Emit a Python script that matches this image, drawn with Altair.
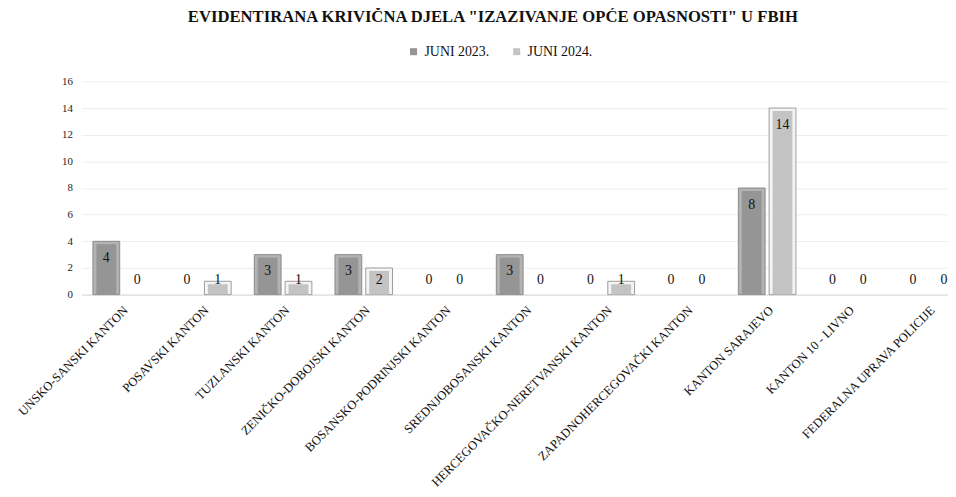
import altair as alt
import pandas as pd

categories = [
    "UNSKO-SANSKI KANTON",
    "POSAVSKI KANTON",
    "TUZLANSKI KANTON",
    "ZENIČKO-DOBOJSKI KANTON",
    "BOSANSKO-PODRINJSKI KANTON",
    "SREDNJOBOSANSKI KANTON",
    "HERCEGOVAČKO-NERETVANSKI KANTON",
    "ZAPADNOHERCEGOVAČKI KANTON",
    "KANTON SARAJEVO",
    "KANTON 10 - LIVNO",
    "FEDERALNA UPRAVA POLICIJE",
]
series = ["JUNI 2023.", "JUNI 2024."]
values_2023 = [4, 0, 3, 3, 0, 3, 0, 0, 8, 0, 0]
values_2024 = [0, 1, 1, 2, 0, 0, 1, 0, 14, 0, 0]
y_ticks = [0, 2, 4, 6, 8, 10, 12, 14, 16]

rows = []
for c, a, b in zip(categories, values_2023, values_2024):
    rows.append({"kanton": c, "series": series[0], "value": a})
    rows.append({"kanton": c, "series": series[1], "value": b})
df = pd.DataFrame(rows)

FONT = "Liberation Serif"

x_enc = alt.X(
    "kanton:N",
    sort=categories,
    scale=alt.Scale(domain=categories, range=[0, 895], paddingInner=0, paddingOuter=0),
    axis=alt.Axis(
        title=None,
        labelAngle=-45,
        labelFont=FONT,
        labelFontSize=12.7,
        labelColor="#111111",
        labelLimit=400,
        labelPadding=9,
        ticks=False,
        domainColor="#d9d9d9",
        grid=False,
    ),
)
xoff_enc = alt.XOffset(
    "series:N", scale=alt.Scale(domain=series, paddingInner=0, paddingOuter=0.31)
)
y_axis = alt.Axis(
    title=None,
    values=y_ticks,
    grid=True,
    gridColor="#eeeeee",
    domain=False,
    ticks=False,
    labelFont=FONT,
    labelFontSize=11,
    labelColor="#222222",
    labelPadding=9,
)
y_scale = alt.Scale(domain=[0, 16], nice=False)

base = alt.Chart(df).encode(x=x_enc, xOffset=xoff_enc)

is_2023 = alt.datum.series == series[0]

outer = (
    base.transform_filter(alt.datum.value > 0)
    .mark_bar(width=27, strokeWidth=1)
    .encode(
        y=alt.Y("value:Q", scale=y_scale, axis=y_axis, stack=None),
        fill=alt.condition(is_2023, alt.value("#b3b3b3"), alt.value("#f4f4f4")),
        stroke=alt.condition(is_2023, alt.value("#8a8a8a"), alt.value("#9c9c9c")),
    )
)

inner = (
    base.transform_filter(alt.datum.value > 0)
    .mark_bar(width=20, yOffset=3, y2Offset=-2)
    .encode(
        y=alt.Y("value:Q", scale=y_scale, axis=y_axis, stack=None),
        color=alt.Color(
            "series:N",
            scale=alt.Scale(domain=series, range=["#959595", "#c3c3c3"]),
            legend=alt.Legend(
                title=None,
                orient="none",
                legendX=328,
                legendY=-37,
                direction="horizontal",
                symbolType="square",
                symbolSize=50,
                symbolStrokeWidth=0,
                labelFont=FONT,
                labelFontSize=14,
                labelColor="#111111",
                columnPadding=20,
            ),
        ),
    )
)

labels = (
    base.transform_calculate(ly="max(datum.value, 2.38)")
    .mark_text(font=FONT, fontSize=14, color="#111111", dy=17, baseline="middle")
    .encode(
        y=alt.Y("ly:Q", scale=y_scale, axis=y_axis, stack=None),
        text=alt.Text("value:Q"),
    )
)

chart = (
    alt.layer(outer, inner, labels)
    .properties(
        width=874,
        height=215,
        title=alt.Title(
            'EVIDENTIRANA KRIVIČNA DJELA "IZAZIVANJE OPĆE OPASNOSTI"  U FBIH',
            font=FONT,
            fontSize=16.8,
            fontWeight="bold",
            color="#111111",
            anchor="middle",
            dx=-22,
            offset=19,
        ),
        autosize=alt.AutoSizeParams(type="none"),
        padding={"left": 74, "top": 72, "right": 0, "bottom": 195},
        background="white",
    )
    .configure_view(stroke=None)
)

chart.save("out.html", embed_options={"renderer": "svg", "actions": False})
